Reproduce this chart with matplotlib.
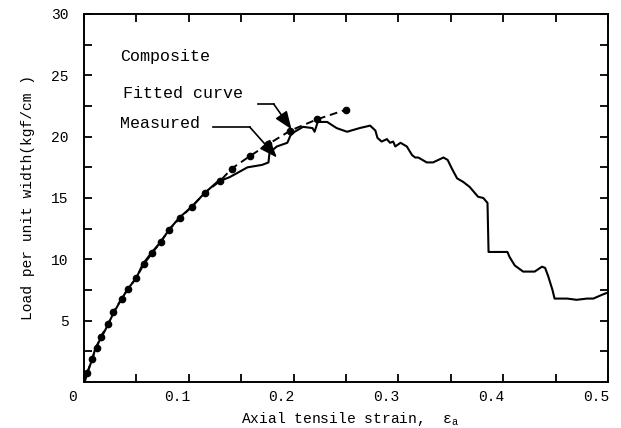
import numpy as np
import matplotlib
matplotlib.use("Agg")
import matplotlib.pyplot as plt
from matplotlib.transforms import ScaledTranslation

plt.rcParams['font.family'] = ['Liberation Mono', 'DejaVu Sans']
plt.rcParams['mathtext.default'] = 'regular'

# measured load-strain curve (solid)
meas_x = [0.001, 0.003, 0.008, 0.011, 0.017, 0.023, 0.028, 0.036, 0.042, 0.050,
          0.056, 0.064, 0.073, 0.081, 0.091, 0.103, 0.115, 0.127, 0.139, 0.156,
          0.170, 0.176, 0.177, 0.184, 0.194, 0.197, 0.201, 0.209, 0.218, 0.220,
          0.223, 0.232, 0.241, 0.251, 0.263, 0.273, 0.278, 0.280, 0.284, 0.289,
          0.292, 0.295, 0.297, 0.302, 0.308, 0.313, 0.316, 0.319, 0.327, 0.333,
          0.343, 0.347, 0.351, 0.356, 0.362, 0.368, 0.376, 0.381, 0.385, 0.386,
          0.404, 0.406, 0.411, 0.419, 0.430, 0.437, 0.440, 0.443, 0.447, 0.449,
          0.461, 0.470, 0.480, 0.486, 0.494, 0.500]
meas_y = [0.1, 0.7, 1.9, 2.8, 3.7, 4.7, 5.6, 6.8, 7.6, 8.5,
          9.6, 10.5, 11.4, 12.4, 13.4, 14.3, 15.4, 16.3, 16.7, 17.5,
          17.7, 17.9, 18.7, 19.2, 19.5, 20.1, 20.4, 20.8, 20.7, 20.4,
          21.2, 21.2, 20.7, 20.4, 20.7, 20.9, 20.5, 19.9, 19.6, 19.8,
          19.5, 19.6, 19.2, 19.5, 19.2, 18.5, 18.3, 18.3, 17.9, 17.9,
          18.3, 18.1, 17.4, 16.6, 16.3, 15.9, 15.1, 15.0, 14.6, 10.6,
          10.6, 10.2, 9.5, 9.0, 9.0, 9.4, 9.3, 8.6, 7.5, 6.8,
          6.8, 6.7, 6.8, 6.8, 7.1, 7.3]

# fitted curve points (dots + dashed)
fit_x = [0.003, 0.0076, 0.012, 0.016, 0.023, 0.028, 0.036, 0.042, 0.050, 0.057,
         0.065, 0.073, 0.081, 0.092, 0.103, 0.115, 0.130, 0.141, 0.158, 0.176,
         0.197, 0.222, 0.250]
fit_y = [0.7, 1.9, 2.8, 3.7, 4.7, 5.7, 6.8, 7.6, 8.5, 9.6,
         10.5, 11.4, 12.4, 13.4, 14.3, 15.4, 16.4, 17.4, 18.4, 19.4,
         20.5, 21.4, 22.2]

# leader lines for the labels: start, bend, arrow tip
fit_arrow = [(0.166, 22.66), (0.181, 22.66), (0.198, 20.6)]
meas_arrow = [(0.123, 20.8), (0.158, 20.8), (0.184, 18.3)]

fig = plt.figure(figsize=(6.21, 4.28), dpi=100)
ax = fig.add_axes([0.1353, 0.1075, 0.8438, 0.8598])

ax.plot(meas_x, meas_y, color='black', lw=1.5)
ax.plot(fit_x, fit_y, color='black', lw=1.4, ls=(0, (4, 2.5)),
        marker='o', ms=4.5, mfc='black', mec='black')

for pts in (fit_arrow, meas_arrow):
    ax.plot([pts[0][0], pts[1][0]], [pts[0][1], pts[1][1]], color='black', lw=1.2)
    ax.annotate('', xy=pts[2], xytext=pts[1],
                arrowprops=dict(arrowstyle='-|>,head_length=0.9,head_width=0.35',
                                color='black', lw=1.2, mutation_scale=12,
                                shrinkA=0, shrinkB=0))

ax.text(0.034, 26.5, 'Composite', fontsize=12, va='center')
ax.text(0.037, 23.55, 'Fitted curve', fontsize=12, va='center')
ax.text(0.034, 21.1, 'Measured', fontsize=12, va='center')

ax.set_xlim(0, 0.5)
ax.set_ylim(0, 30)
ax.set_xticks([0, 0.1, 0.2, 0.3, 0.4, 0.5])
ax.set_xticklabels(['0', '0.1', '0.2', '0.3', '0.4', '0.5'])
ax.set_xticks(np.arange(0.05, 0.5, 0.1), minor=True)
ax.set_yticks([5, 10, 15, 20, 25, 30])
ax.set_yticks(np.arange(2.5, 30, 5), minor=True)

ax.tick_params(which='both', direction='in', length=6, width=1.3,
               top=True, right=True, labelsize=10.5)
ax.tick_params(axis='x', pad=6)
ax.tick_params(axis='y', pad=11)
for lab in ax.get_xticklabels():
    lab.set_transform(lab.get_transform() + ScaledTranslation(-0.12, 0, fig.dpi_scale_trans))

for sp in ax.spines.values():
    sp.set_linewidth(1.4)

ax.set_xlabel('Axial tensile strain,  ε$_{a}$', fontsize=10.5)
ax.xaxis.set_label_coords(0.508, -0.075)
ax.set_ylabel('Load per unit width(kgf/cm )', fontsize=10.5)
ax.yaxis.label.set(va='center', rotation_mode='anchor')
ax.yaxis.set_label_coords(-0.107, 0.5)

fig.savefig('out.png', dpi=100)
